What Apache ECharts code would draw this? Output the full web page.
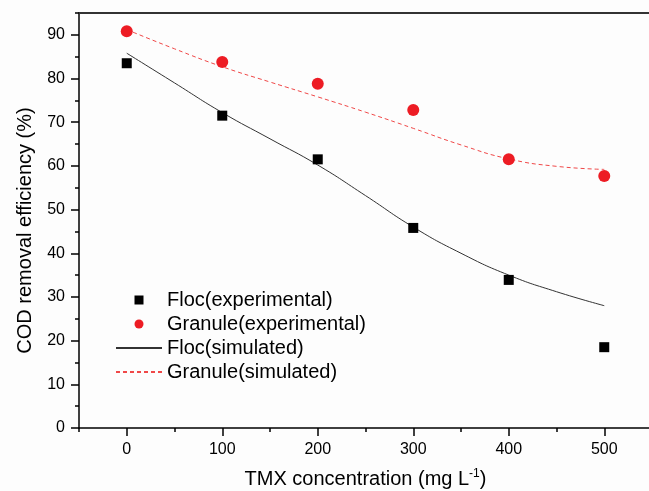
<!DOCTYPE html>
<html>
<head>
<meta charset="utf-8">
<script src="https://cdn.jsdelivr.net/npm/echarts@6/dist/echarts.min.js"></script>
<style>
  html, body { margin: 0; padding: 0; background: #fdfdfd; }
  #chart { width: 649px; height: 491px; }
</style>
</head>
<body>
<div id="chart"></div>
<script>
// 實驗點 (mg/L -> %)
const dose = [0, 100, 200, 300, 400, 500];
const flocExp = [83.5, 71.5, 61.5, 45.8, 33.9, 18.5];
const granuleExp = [90.8, 83.8, 78.8, 72.8, 61.5, 57.7];

// 模擬曲線
const simDose = [0, 50, 100, 150, 200, 250, 300, 350, 400, 450, 500];
const flocSim = [85.8, 79.0, 72.2, 66.2, 60.2, 53.2, 46.0, 40.0, 35.0, 31.2, 28.0];
const granuleSim = [91.2, 86.8, 82.7, 79.2, 75.8, 72.3, 68.6, 64.8, 61.6, 59.9, 59.2];

// 刻度
const xMajor = [0, 100, 200, 300, 400, 500];
const yMajor = [0, 10, 20, 30, 40, 50, 60, 70, 80, 90];

const font = "Liberation Sans";
const pairs = (xs, ys) => xs.map((x, i) => [x, ys[i]]);

const chart = echarts.init(document.getElementById("chart"));

const xBase = { type: "value", min: -50, max: 550, interval: 50, gridIndex: 0, splitLine: { show: false } };
const yBase = { type: "value", min: 0, max: 95, interval: 5, gridIndex: 0, position: "left", offset: 0, splitLine: { show: false } };

chart.setOption({
  backgroundColor: "#fdfdfd",
  animation: false,
  grid: { left: 79, top: 13, width: 573, height: 415, outerBoundsMode: "none", containLabel: false },
  xAxis: [
    Object.assign({}, xBase, {
      position: "bottom",
      axisLine: { onZero: false, lineStyle: { color: "#000", width: 1.5 } },
      axisTick: { inside: false, length: 4, lineStyle: { color: "#000", width: 1.5 } },
      axisLabel: { show: false }
    }),
    Object.assign({}, xBase, {
      position: "bottom",
      axisLine: { show: false, onZero: false },
      axisTick: { customValues: xMajor, length: 8, lineStyle: { color: "#000", width: 1.5 } },
      axisLabel: { customValues: xMajor, margin: 14, color: "#000", fontFamily: font, fontSize: 16 },
      name: "TMX concentration (mg L{sup|-1})",
      nameLocation: "middle",
      nameGap: 40,
      nameTextStyle: {
        color: "#000", fontFamily: font, fontSize: 20,
        rich: { sup: { fontFamily: font, fontSize: 12, verticalAlign: "top", padding: [0, 0, 10, 0] } }
      }
    }),
    Object.assign({}, xBase, {
      position: "top",
      axisLine: { onZero: false, lineStyle: { color: "#333", width: 2 } },
      axisTick: { show: false },
      axisLabel: { show: false }
    })
  ],
  yAxis: [
    Object.assign({}, yBase, {
      axisLine: { show: true, onZero: false, lineStyle: { color: "#000", width: 1.5 } },
      axisTick: { show: true, inside: false, length: 4, lineStyle: { color: "#000", width: 1.5 } },
      axisLabel: { show: false }
    }),
    Object.assign({}, yBase, {
      axisLine: { show: false, onZero: false },
      axisTick: { show: true, inside: false, customValues: yMajor, length: 8, lineStyle: { color: "#000", width: 1.5 } },
      axisLabel: { customValues: yMajor, margin: 14, color: "#000", fontFamily: font, fontSize: 16 },
      name: "COD removal efficiency (%)",
      nameLocation: "middle",
      nameGap: 44,
      nameTextStyle: { color: "#000", fontFamily: font, fontSize: 20, padding: [0, 20, 0, 0] }
    })
  ],
  legend: {
    orient: "vertical",
    left: 110,
    top: 285,
    itemWidth: 46,
    itemHeight: 9,
    itemGap: 4,
    symbolKeepAspect: true,
    textStyle: { color: "#000", fontFamily: font, fontSize: 20 },
    data: [
      { name: "Floc(experimental)", icon: "path://M0,0h10v10h-10z" },
      { name: "Granule(experimental)", icon: "circle" },
      { name: "Floc(simulated)", itemStyle: { opacity: 0 } },
      { name: "Granule(simulated)", itemStyle: { opacity: 0 } }
    ]
  },
  series: [
    {
      name: "Floc(simulated)",
      type: "line",
      smooth: true,
      symbol: "none",
      data: pairs(simDose, flocSim),
      lineStyle: { color: "#333", width: 1 },
      itemStyle: { color: "#333" },
      z: 2
    },
    {
      name: "Granule(simulated)",
      type: "line",
      smooth: true,
      symbol: "none",
      data: pairs(simDose, granuleSim),
      lineStyle: { color: "#f04848", width: 1, type: [4, 3] },
      itemStyle: { color: "#f04848" },
      z: 2
    },
    {
      name: "Floc(experimental)",
      type: "scatter",
      symbol: "rect",
      symbolSize: 10,
      symbolKeepAspect: true,
      data: pairs(dose, flocExp),
      itemStyle: { color: "#000", opacity: 1 },
      z: 3
    },
    {
      name: "Granule(experimental)",
      type: "scatter",
      symbol: "circle",
      symbolSize: 12,
      data: pairs(dose, granuleExp),
      itemStyle: { color: "#ed1c24", opacity: 1 },
      z: 3
    }
  ]
});

window.addEventListener("resize", function () {
  chart.resize();
});
</script>
</body>
</html>
